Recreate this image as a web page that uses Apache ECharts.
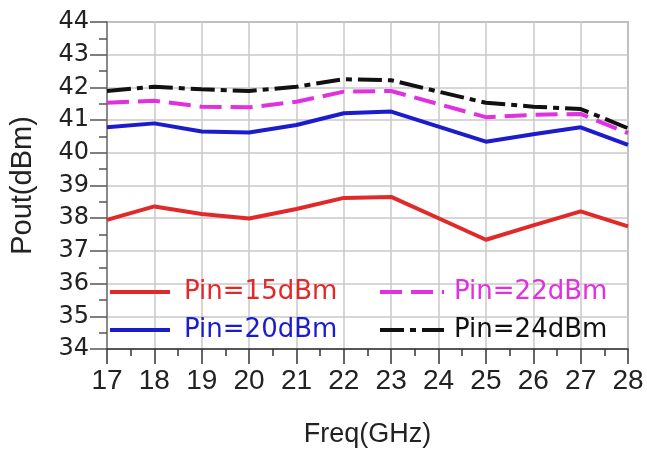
<!DOCTYPE html>
<html>
<head>
<meta charset="utf-8">
<script src="https://cdn.jsdelivr.net/npm/echarts@6/dist/echarts.min.js"></script>
<style>
html,body{margin:0;padding:0;background:#fff;}
#chart{width:647px;height:453px;}
</style>
</head>
<body>
<div id="chart"></div>
<script>
var freq = [17, 18, 19, 20, 21, 22, 23, 24, 25, 26, 27, 28];
var pin15 = [37.95, 38.36, 38.13, 37.99, 38.28, 38.62, 38.65, 38.00, 37.34, 37.78, 38.21, 37.75];
var pin20 = [40.78, 40.90, 40.65, 40.62, 40.85, 41.21, 41.26, 40.80, 40.34, 40.57, 40.78, 40.24];
var pin22 = [41.53, 41.59, 41.41, 41.39, 41.56, 41.87, 41.89, 41.49, 41.09, 41.16, 41.19, 40.60];
var pin24 = [41.89, 42.02, 41.94, 41.89, 42.02, 42.25, 42.22, 41.87, 41.53, 41.41, 41.34, 40.75];
var seriesNames = ['Pin=15dBm', 'Pin=20dBm', 'Pin=22dBm', 'Pin=24dBm'];
var xTitle = 'Freq(GHz)';
var yTitle = 'Pout(dBm)';

function pairs(ys) { return freq.map(function (f, i) { return [f, ys[i]]; }); }

var colors = ['#e02a2a', '#1c1ccc', '#e030e0', '#111111'];
var dashes = ['solid', 'solid', [22, 9], [24, 6, 6, 6]];
var allData = [pin15, pin20, pin22, pin24];

var series = allData.map(function (d, i) {
  return {
    name: seriesNames[i],
    type: 'line',
    data: pairs(d),
    symbol: 'none',
    color: colors[i],
    lineStyle: { color: colors[i], width: 4, type: dashes[i] },
    z: 10 - i
  };
});

var chart = echarts.init(document.getElementById('chart'), null, { renderer: 'canvas' });
chart.setOption({
  animation: false,
  backgroundColor: '#ffffff',
  grid: { left: 105, right: 19, top: 22, bottom: 103, show: true, borderColor: '#8a8a8a', borderWidth: 1.5, backgroundColor: 'transparent' },
  xAxis: {
    type: 'value', min: 17, max: 28, interval: 1,
    name: xTitle, nameLocation: 'middle', nameGap: 72,
    nameTextStyle: { fontFamily: 'Liberation Sans', fontSize: 27, color: '#222' },
    axisLine: { show: true, lineStyle: { color: '#333', width: 1.5 } },
    axisTick: { show: true, length: 15, lineStyle: { color: '#333', width: 1.5 } },
    minorTick: { show: true, splitNumber: 2, length: 7, lineStyle: { color: '#333', width: 1.5 } },
    axisLabel: { margin: 18, fontFamily: 'Liberation Sans', fontSize: 28, color: '#222' },
    splitLine: { show: true, lineStyle: { color: '#c8c8c8', width: 1.5 } }
  },
  yAxis: {
    type: 'value', min: 34, max: 44, interval: 1,
    name: yTitle, nameLocation: 'middle', nameGap: 70, nameRotate: 90,
    nameTextStyle: { fontFamily: 'Liberation Sans', fontSize: 29, color: '#222' },
    axisLine: { show: true, lineStyle: { color: '#777', width: 1.5 } },
    axisTick: { show: true, length: 17, lineStyle: { color: '#555', width: 1.5 } },
    minorTick: { show: true, splitNumber: 2, length: 8, lineStyle: { color: '#555', width: 1.5 } },
    axisLabel: { margin: 18, fontFamily: 'DejaVu Sans', fontSize: 24, color: '#222' },
    splitLine: { show: true, lineStyle: { color: '#c8c8c8', width: 1.5 } }
  },
  legend: [
    {
      left: 103, top: 274, orient: 'vertical', itemWidth: 60, itemHeight: 14, itemGap: 12,
      itemStyle: { opacity: 0 },
      lineStyle: { width: 4 },
      textStyle: { fontFamily: 'DejaVu Sans', fontSize: 26, lineHeight: 26, padding: [0, 0, 0, 9] },
      data: [
        { name: seriesNames[0], textStyle: { color: colors[0] } },
        { name: seriesNames[1], textStyle: { color: colors[1] } }
      ]
    },
    {
      left: 373, top: 274, orient: 'vertical', itemWidth: 64, itemHeight: 14, itemGap: 12,
      itemStyle: { opacity: 0 },
      lineStyle: { width: 4 },
      textStyle: { fontFamily: 'DejaVu Sans', fontSize: 26, lineHeight: 26, padding: [0, 0, 0, 5] },
      data: [
        { name: seriesNames[2], textStyle: { color: colors[2] } },
        { name: seriesNames[3], textStyle: { color: colors[3] } }
      ]
    }
  ],
  series: series
});
</script>
</body>
</html>
